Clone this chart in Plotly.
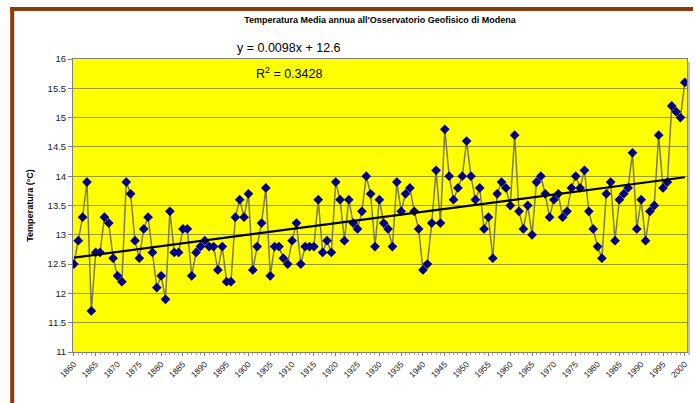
import plotly.graph_objects as go

# Annual mean temperature, Modena Geophysical Observatory (°C)
years = list(range(1860, 2001))
temps = [
    12.5, 12.9, 13.3, 13.9, 11.7, 12.7, 12.7, 13.3, 13.2, 12.6,  # 1860s
    12.3, 12.2, 13.9, 13.7, 12.9, 12.6, 13.1, 13.3, 12.7, 12.1,  # 1870s
    12.3, 11.9, 13.4, 12.7, 12.7, 13.1, 13.1, 12.3, 12.7, 12.8,  # 1880s
    12.9, 12.8, 12.8, 12.4, 12.8, 12.2, 12.2, 13.3, 13.6, 13.3,  # 1890s
    13.7, 12.4, 12.8, 13.2, 13.8, 12.3, 12.8, 12.8, 12.6, 12.5,  # 1900s
    12.9, 13.2, 12.5, 12.8, 12.8, 12.8, 13.6, 12.7, 12.9, 12.7,  # 1910s
    13.9, 13.6, 12.9, 13.6, 13.2, 13.1, 13.4, 14.0, 13.7, 12.8,  # 1920s
    13.6, 13.2, 13.1, 12.8, 13.9, 13.4, 13.7, 13.8, 13.4, 13.1,  # 1930s
    12.4, 12.5, 13.2, 14.1, 13.2, 14.8, 14.0, 13.6, 13.8, 14.0,  # 1940s
    14.6, 14.0, 13.6, 13.8, 13.1, 13.3, 12.6, 13.7, 13.9, 13.8,  # 1950s
    13.5, 14.7, 13.4, 13.1, 13.5, 13.0, 13.9, 14.0, 13.7, 13.3,  # 1960s
    13.6, 13.7, 13.3, 13.4, 13.8, 14.0, 13.8, 14.1, 13.4, 13.1,  # 1970s
    12.8, 12.6, 13.7, 13.9, 12.9, 13.6, 13.7, 13.8, 14.4, 13.1,  # 1980s
    13.6, 12.9, 13.4, 13.5, 14.7, 13.8, 13.9, 15.2, 15.1, 15.0,  # 1990s
    15.6,                                                        # 2000
]

# Linear trend as stated on the chart: y = 0.0098x + 12.6, x = 1..N
trend_slope = 0.0098
trend_intercept = 12.6
trend_r2 = 0.3428
trend = [trend_slope * (i + 1) + trend_intercept for i in range(len(years))]

year_ticks = list(range(1860, 2001, 5))
y_ticks = [11, 11.5, 12, 12.5, 13, 13.5, 14, 14.5, 15, 15.5, 16]

W, H = 695, 403
L, R, T, B = 73, 6, 59, 51
PW, PH = W - L - R, H - T - B


def px(x):
    return (x - L) / PW


def py(y):
    return (H - B - y) / PH


FONT = "Liberation Sans, Arial, sans-serif"

fig = go.Figure()

fig.add_trace(go.Scatter(
    x=years, y=temps, mode="lines+markers",
    line=dict(color="#7a7a55", width=1.5),
    marker=dict(symbol="diamond", size=7.5, color="#000080",
                line=dict(width=0)),
    showlegend=False, hoverinfo="x+y",
))

fig.add_trace(go.Scatter(
    x=years, y=trend, mode="lines",
    line=dict(color="#000000", width=2.2),
    showlegend=False, hoverinfo="skip",
))

fig.update_layout(
    width=W, height=H,
    margin=dict(l=L, r=R, t=T, b=B, pad=0),
    paper_bgcolor="#ffffff",
    plot_bgcolor="#ffff00",
    font=dict(family=FONT, color="#000000"),
    title=dict(
        text="<b>Temperatura Media annua all'Osservatorio Geofisico di Modena</b>",
        x=0.5, xref="paper", xanchor="center",
        y=1 - 20 / H, yanchor="middle",
        font=dict(size=9, family=FONT),
    ),
    xaxis=dict(
        range=[1859.8, 2000.5],
        tickmode="array", tickvals=year_ticks,
        ticktext=[str(y) for y in year_ticks],
        tickangle=-45, tickfont=dict(size=8.5, color="#222222"),
        ticks="outside", ticklen=3, tickcolor="#808080",
        minor=dict(dtick=1, tick0=1860, ticks="outside", ticklen=2,
                   tickcolor="#a0a0a0"),
        showgrid=False, zeroline=False,
        showline=True, linecolor="#808080", linewidth=1, mirror=True,
    ),
    yaxis=dict(
        range=[11, 16],
        tickmode="array", tickvals=y_ticks,
        ticktext=[f"{v:g}" for v in y_ticks],
        tickfont=dict(size=9.5, color="#222222"),
        ticks="outside", ticklen=4, tickcolor="#808080",
        showgrid=True, gridcolor="#9a9a30", gridwidth=1,
        zeroline=False,
        showline=True, linecolor="#808080", linewidth=1, mirror=True,
        title=dict(text="<b>Temperatura (°C)</b>",
                   font=dict(size=9, family=FONT), standoff=12),
    ),
    annotations=[
        dict(text="y = 0.0098x + 12.6", xref="paper", yref="paper",
             x=px(290), y=py(48), xanchor="center", yanchor="middle",
             showarrow=False, font=dict(size=12.5, family=FONT)),
        dict(text=f"R<sup>2</sup> = {trend_r2:.4f}", xref="paper", yref="paper",
             x=px(290), y=py(73), xanchor="center", yanchor="middle",
             showarrow=False, font=dict(size=12.5, family=FONT)),
    ],
    shapes=[
        # thin shadow strip along the right edge of the plot area
        dict(type="rect", xref="paper", yref="paper",
             x0=px(690), x1=px(692), y0=py(355), y1=py(62),
             fillcolor="#c0c0c0", line=dict(width=0)),
        # brown frame
        dict(type="rect", xref="paper", yref="paper",
             x0=px(10), x1=px(14), y0=py(403), y1=py(7),
             fillcolor="#8b3a0b", line=dict(width=0)),
        dict(type="rect", xref="paper", yref="paper",
             x0=px(10), x1=px(695), y0=py(11), y1=py(7),
             fillcolor="#8b3a0b", line=dict(width=0)),
    ],
)

fig.write_html("out.html")
